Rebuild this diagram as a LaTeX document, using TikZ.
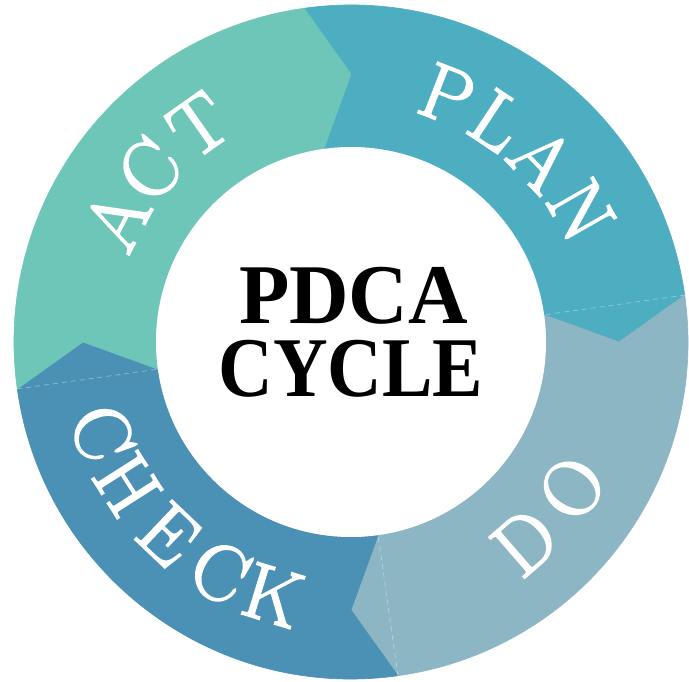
\documentclass[tikz,border=0pt]{standalone}
\usepackage{fontspec}
\usepackage{graphicx}
\newfontfamily\titlefont{Liberation Serif}
\newfontfamily\ringfont{Latin Modern Roman}[FakeBold=2.5]
\definecolor{planc}{HTML}{4DADC1}
\definecolor{doc}{HTML}{8DB6C4}
\definecolor{checkc}{HTML}{4A91B5}
\definecolor{actc}{HTML}{6EC6B9}
\begin{document}
\begin{tikzpicture}[x=1pt,y=1pt,
  seg/.style={line width=0.6pt, line join=round},
  seam/.style={white, opacity=0.35, line width=0.8pt, dash pattern=on 5pt off 4pt},
  ringletter/.style={text=white, inner sep=0pt, anchor=center,
    font=\ringfont\fontsize{79}{79}\selectfont},
  title/.style={inner sep=0pt, anchor=base,
    font=\titlefont\bfseries\fontsize{85}{85}\selectfont}]
\useasboundingbox (-351,-339) rectangle (338,342);
\fill[white] (-351,-339) rectangle (338,342);

% four arrow-shaped ring segments, running clockwise
\filldraw[seg, fill=planc, draw=planc]
  (98:337) arc[start angle=98, end angle=8, radius=337] -- (0:268) -- (8:195)
  arc[start angle=8, end angle=98, radius=195] -- (90:268) -- cycle;
\filldraw[seg, fill=doc, draw=doc]
  (8:337) arc[start angle=8, end angle=-82, radius=337] -- (-90:268) -- (-82:195)
  arc[start angle=-82, end angle=8, radius=195] -- (0:268) -- cycle;
\filldraw[seg, fill=checkc, draw=checkc]
  (-82:337) arc[start angle=-82, end angle=-172, radius=337] -- (-180:268) -- (-172:195)
  arc[start angle=-172, end angle=-82, radius=195] -- (-90:268) -- cycle;
\filldraw[seg, fill=actc, draw=actc]
  (-172:337) arc[start angle=-172, end angle=-262, radius=337] -- (-270:268) -- (-262:195)
  arc[start angle=-262, end angle=-172, radius=195] -- (-180:268) -- cycle;

% faint seams inside the arrow heads
\draw[seam] (8:337) -- (8:195);
\draw[seam] (-82:337) -- (-82:195);
\draw[seam] (-172:337) -- (-172:195);

% white centre disc
\fill[white] (0,0) circle[radius=195];

% ring labels, one letter at a time along the ring
\node[ringletter, rotate=62.4] (actA) at (152.4:265) {A};
\node[ringletter, rotate=49.5] (actC) at (139.5:265) {C};
\node[ringletter, rotate=35.1] (actT) at (125.1:265) {T};

\node[ringletter, rotate=-21.3] (planP) at (68.7:265) {P};
\node[ringletter, rotate=-33.5] (planL) at (56.5:265) {L};
\node[ringletter, rotate=-46.3] (planA) at (43.7:265) {A};
\node[ringletter, rotate=-60.3] (planN) at (29.7:265) {N};

\node[ringletter, rotate=41] (doD) at (-49:265) {D};
\node[ringletter, rotate=56.5] (doO) at (-33.5:265) {O};

\node[ringletter, rotate=290.1] (checkC) at (200.1:265) {C};
\node[ringletter, rotate=302.5] (checkH) at (212.5:265) {H};
\node[ringletter, rotate=316.5] (checkE) at (226.5:265) {E};
\node[ringletter, rotate=330.3] (checkCc) at (240.3:265) {C};
\node[ringletter, rotate=342.9] (checkK) at (252.9:265) {K};

% centre title
\node[title] (pdca) at (2.5,19) {\scalebox{0.97}[1]{PDCA}};
\node[title] (cycle) at (0,-54) {\scalebox{0.89}[1]{CYCLE}};
\end{tikzpicture}
\end{document}
